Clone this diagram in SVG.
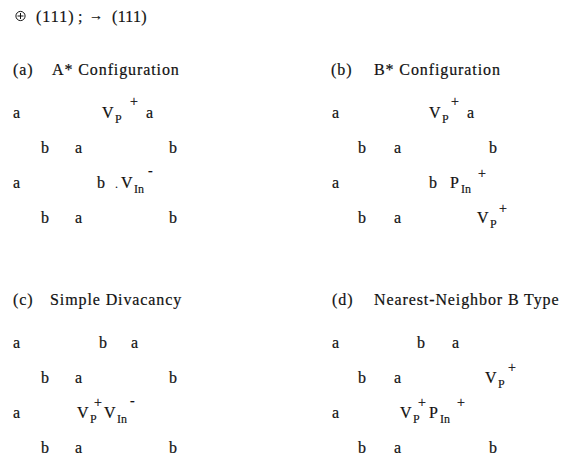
<svg xmlns="http://www.w3.org/2000/svg" width="566" height="458" viewBox="0 0 566 458">
<style>
text{font-family:"Liberation Serif","Times New Roman",serif;fill:#111;font-size:16px;stroke:#111;stroke-width:0.2px}
.t{letter-spacing:0.9px}
.s{font-size:12px;stroke-width:0.15px}
.p{font-size:14px}
</style>
<rect width="566" height="458" fill="#fff"/>
<g id="header">
<circle cx="20.5" cy="16" r="4.6" fill="none" stroke="#111" stroke-width="1"/>
<line x1="17.5" y1="16" x2="23.5" y2="16" stroke="#111" stroke-width="1"/>
<line x1="20.5" y1="13" x2="20.5" y2="19" stroke="#111" stroke-width="1"/>
<text x="36" y="22" style="letter-spacing:1px">(111)<tspan x="78">;</tspan></text>
<text x="89" y="20" style="font-size:14px">→</text>
<text x="112" y="22" style="letter-spacing:0.3px">(111)</text>
</g>
<g id="panel-a">
<text x="13" y="75" class="t">(a)</text>
<text x="52" y="75" class="t">A* Configuration</text>
<text x="13" y="118">a</text>
<text x="102" y="118">V</text><text x="115" y="123" class="s">P</text><text x="130" y="106" class="p">+</text>
<text x="146" y="118">a</text>
<text x="41" y="153">b</text><text x="75" y="153">a</text><text x="169" y="153">b</text>
<text x="13" y="188">a</text>
<text x="97" y="188">b</text>
<text x="115" y="188" class="s">.</text>
<text x="121" y="188">V</text><text x="134" y="193" class="s">In</text><text x="148" y="175" class="p">-</text>
<text x="41" y="223">b</text><text x="75" y="223">a</text><text x="169" y="223">b</text>
</g>
<g id="panel-b">
<text x="331" y="75" class="t">(b)</text>
<text x="374" y="75" class="t">B* Configuration</text>
<text x="332" y="118">a</text>
<text x="429" y="118">V</text><text x="442" y="123" class="s">P</text><text x="451" y="106" class="p">+</text>
<text x="467" y="118">a</text>
<text x="358" y="153">b</text><text x="394" y="153">a</text><text x="489" y="153">b</text>
<text x="332" y="188">a</text>
<text x="429" y="188">b</text>
<text x="450" y="188">P</text><text x="461" y="193" class="s">In</text><text x="478" y="178" class="p">+</text>
<text x="358" y="223">b</text><text x="394" y="223">a</text>
<text x="477" y="223">V</text><text x="490" y="228" class="s">P</text><text x="499" y="213" class="p">+</text>
</g>
<g id="panel-c">
<text x="13" y="305" class="t">(c)</text>
<text x="50" y="305" class="t">Simple Divacancy</text>
<text x="13" y="348">a</text><text x="99" y="348">b</text><text x="131" y="348">a</text>
<text x="41" y="383">b</text><text x="75" y="383">a</text><text x="169" y="383">b</text>
<text x="13" y="418">a</text>
<text x="77" y="418">V</text><text x="90" y="423" class="s">P</text><text x="94" y="407" class="p">+</text>
<text x="104" y="418">V</text><text x="117" y="423" class="s">In</text><text x="130" y="405" class="p">-</text>
<text x="41" y="453">b</text><text x="75" y="453">a</text><text x="169" y="453">b</text>
</g>
<g id="panel-d">
<text x="332" y="305" class="t">(d)</text>
<text x="374" y="305" class="t">Nearest-Neighbor B Type</text>
<text x="332" y="348">a</text><text x="417" y="348">b</text><text x="452" y="348">a</text>
<text x="358" y="383">b</text><text x="394" y="383">a</text>
<text x="485" y="383">V</text><text x="498" y="388" class="s">P</text><text x="508" y="372" class="p">+</text>
<text x="332" y="418">a</text>
<text x="400" y="418">V</text><text x="413" y="423" class="s">P</text><text x="418" y="407" class="p">+</text>
<text x="429" y="418">P</text><text x="440" y="423" class="s">In</text><text x="457" y="407" class="p">+</text>
<text x="358" y="453">b</text><text x="394" y="453">a</text><text x="489" y="453">b</text>
</g>
</svg>
